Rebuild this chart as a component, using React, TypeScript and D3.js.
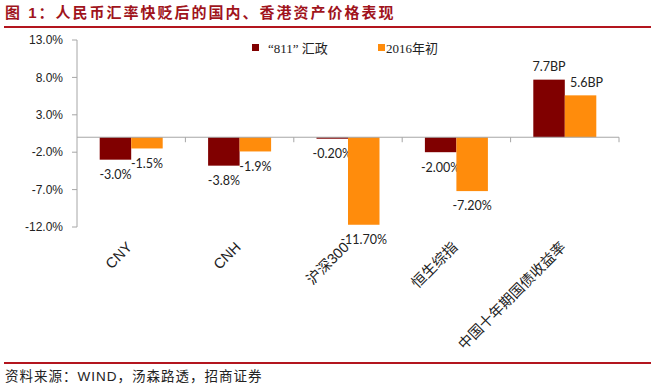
import React from "react";
import * as d3 from "d3";

const categories = ["CNY", "CNH", "沪深300", "恒生综指", "中国十年期国债收益率"];
const seriesNames = ["“811” 汇政", "2016年初"];
const series811 = [-3.0, -3.8, -0.2, -2.0, 7.7];
const series2016 = [-1.5, -1.9, -11.7, -7.2, 5.6];
const labels811 = ["-3.0%", "-3.8%", "-0.20%", "-2.00%", "7.7BP"];
const labels2016 = ["-1.5%", "-1.9%", "-11.70%", "-7.20%", "5.6BP"];
const yTicks = [13, 8, 3, -2, -7, -12];
const titleText = "图 1：人民币汇率快贬后的国内、香港资产价格表现";
const sourceText = "资料来源：WIND，汤森路透，招商证券";

const W = 655;
const H = 386;
const COLORS = ["#800000", "#FF8C0C"];
const RED = "#B3151E";
const TEXT = "#222";

export default function App() {
  const x = d3.scaleBand<string>().domain(categories).range([77, 619]).padding(0);
  const y = d3.scaleLinear().domain([-12, 13]).range([227, 40]);
  const inner = d3.scaleBand<number>().domain([0, 1]).range([0, 63]);
  const seriesVals = [series811, series2016];
  const seriesLabels = [labels811, labels2016];
  const nudge: Record<string, number> = { "4-1": 6 };
  const y0 = y(0);
  const cx = (c: string) => (x(c) as number) + x.bandwidth() / 2;

  return (
    <svg width={W} height={H} style={{ position: "absolute", left: 0, top: 0, background: "#fff" }}>
      <text x={5} y={18} fill="#A0141C" fontSize={15} fontWeight="bold" letterSpacing={2}
        fontFamily="Liberation Sans, Noto Sans CJK SC">{titleText}</text>
      <line x1={4} x2={651} y1={27} y2={27} stroke={RED} strokeWidth={2} />
      <line x1={4} x2={651} y1={363} y2={363} stroke={RED} strokeWidth={2} />
      <text x={5} y={381} fill={TEXT} fontSize={13.5} letterSpacing={1}
        fontFamily="Liberation Sans, Noto Sans CJK SC">{sourceText}</text>

      {/* y axis */}
      <line x1={77} x2={77} y1={y(13)} y2={y(-12)} stroke="#A6A6A6" />
      {yTicks.map((t) => (
        <g key={t}>
          <line x1={72} x2={77} y1={y(t)} y2={y(t)} stroke="#A6A6A6" />
          <text x={63} y={y(t)} dy="0.35em" textAnchor="end" fontSize={12} fill={TEXT}
            fontFamily="Liberation Sans, Arial">{t.toFixed(1) + "%"}</text>
        </g>
      ))}

      {/* bars */}
      {categories.map((c, i) => (
        <g key={c} transform={`translate(${cx(c) - 31.5},0)`}>
          {seriesVals.map((vals, s) => {
            const v = vals[i];
            const bx = inner(s) as number;
            const bw = inner.bandwidth();
            const top = Math.min(y(v), y0);
            const h = Math.abs(y(v) - y0);
            const ly = v < 0 ? y(v) + 15 : y(v) - 13;
            return (
              <g key={s}>
                <rect x={bx} y={top} width={bw} height={h} fill={COLORS[s]} />
                <text x={bx + bw / 2 + (nudge[`${i}-${s}`] || 0)} y={ly} dy="0.35em" textAnchor="middle"
                  fontSize={12.5} fill={TEXT} fontFamily="Lato, Liberation Sans">{seriesLabels[s][i]}</text>
              </g>
            );
          })}
        </g>
      ))}

      {/* x axis at zero */}
      <line x1={77} x2={619} y1={y0} y2={y0} stroke="#A6A6A6" />
      {categories.map((c) => (
        <line key={c} x1={(x(c) as number) + x.bandwidth()} x2={(x(c) as number) + x.bandwidth()}
          y1={y0} y2={y0 + 5} stroke="#A6A6A6" />
      ))}

      {/* category labels */}
      {categories.map((c) => (
        <text key={c} transform={`translate(${cx(c) + 2},248) rotate(-45)`} textAnchor="end"
          fontSize={14.5} fill={TEXT} fontFamily="Liberation Sans, Noto Sans CJK SC">{c}</text>
      ))}

      {/* legend */}
      {seriesNames.map((n, s) => {
        const lx = s === 0 ? 252 : 378;
        return (
          <g key={n}>
            <rect x={lx} y={44} width={7} height={7} fill={COLORS[s]} />
            <text x={lx + (s === 0 ? 16 : 8)} y={48} dy="0.35em" fontSize={13} fill={TEXT}
              fontFamily="Liberation Serif, Noto Sans CJK SC">{n}</text>
          </g>
        );
      })}
    </svg>
  );
}
